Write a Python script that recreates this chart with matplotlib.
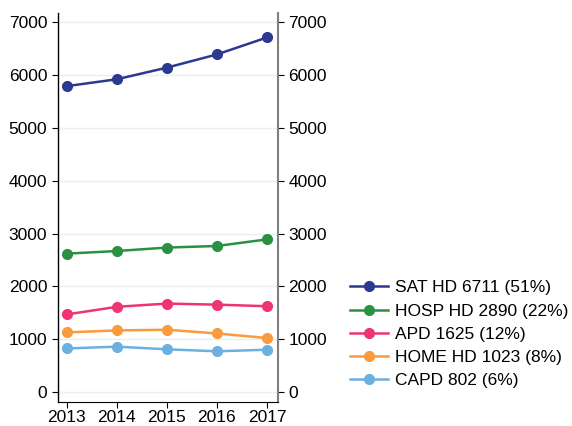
import matplotlib.pyplot as plt

years = [2013, 2014, 2015, 2016, 2017]
sat_hd = [5790, 5920, 6140, 6390, 6711]
hosp_hd = [2620, 2670, 2735, 2765, 2890]
apd = [1470, 1614, 1675, 1655, 1625]
home_hd = [1130, 1167, 1180, 1110, 1023]
capd = [826, 860, 810, 772, 802]

labels = ['SAT HD 6711 (51%)', 'HOSP HD 2890 (22%)', 'APD 1625 (12%)',
          'HOME HD 1023 (8%)', 'CAPD 802 (6%)']
colors = ['#2b3990', '#2a9142', '#ee3377', '#f99b3e', '#6cb0e0']
series = [sat_hd, hosp_hd, apd, home_hd, capd]

plt.rcParams['font.family'] = ['Liberation Sans', 'DejaVu Sans']

fig = plt.figure(figsize=(5.72, 4.26), dpi=100)
ax = fig.add_axes([0.101, 0.056, 0.385, 0.913])

for vals, col, lab in zip(series, colors, labels):
    ax.plot(years, vals, color=col, lw=1.8, marker='o', ms=7, label=lab)

ax.set_xlim(2012.82, 2017.22)
ax.set_ylim(-190, 7170)
ax.set_xticks(years)
ax.set_yticks(range(0, 7001, 1000))
ax.grid(axis='y', color='#e6f0f2', lw=1)
ax.set_axisbelow(True)

ax.spines['top'].set_visible(False)
ax.spines['right'].set_color('#808080')
ax.spines['right'].set_linewidth(1.5)
ax.spines['left'].set_linewidth(1)
ax.tick_params(axis='y', right=True, labelright=True, labelsize=12.5, length=4)
ax.tick_params(axis='x', labelsize=12.5, length=4, pad=2)

handles, labs = ax.get_legend_handles_labels()
fig.legend(handles, labs, loc='upper left', bbox_to_anchor=(0.612, 0.342),
           frameon=False, fontsize=12.5, handlelength=2.2, handletextpad=0.4,
           labelspacing=0.46, borderpad=0, borderaxespad=0)

fig.savefig('out.png', dpi=100)
